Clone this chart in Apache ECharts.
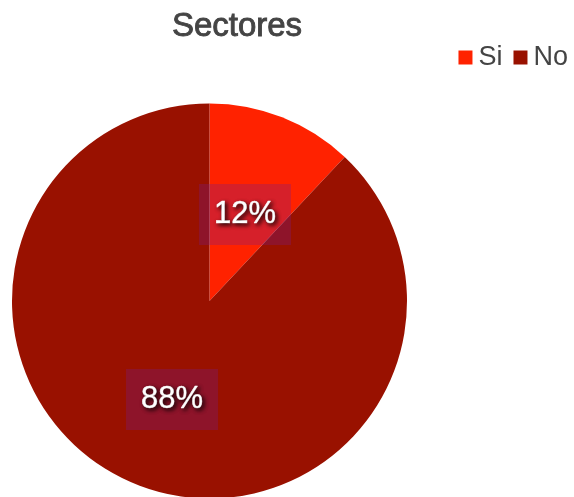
<!DOCTYPE html>
<html>
<head>
<meta charset="utf-8">
<style>
  html, body { margin: 0; padding: 0; background: #fff; }
  #chart { width: 574px; height: 497px; }
</style>
<script src="https://cdn.jsdelivr.net/npm/echarts@6/dist/echarts.min.js"></script>
</head>
<body>
<div id="chart"></div>
<script>
// chart data
const categories = ['Si', 'No'];
const values = [12, 88];
const colors = ['#ff2200', '#991100'];
// small nudges so the labels sit where the reference puts them
const labelOffsets = [[-2, 8], [0, 4]];

const chart = echarts.init(document.getElementById('chart'), null, { renderer: 'canvas' });

const font = '"Liberation Sans", Helvetica, Arial, sans-serif';

chart.setOption({
  animation: false,
  title: {
    text: 'Sectores',
    left: 232,
    top: 5,
    textAlign: 'center',
    // medium weight: regular face thickened with a thin outline
    textStyle: {
      fontFamily: font, fontSize: 33, fontWeight: 'normal', color: '#444',
      textBorderColor: '#444', textBorderWidth: 0.9
    }
  },
  legend: {
    data: categories,
    right: 1,
    top: 39,
    icon: 'rect',
    itemWidth: 14,
    itemHeight: 14,
    itemGap: 11,
    textStyle: { fontFamily: font, fontSize: 27, color: '#444', padding: [0, 0, 0, 1] }
  },
  series: [{
    type: 'pie',
    center: [209.5, 301],
    radius: 197.5,
    startAngle: 90,
    clockwise: true,
    silent: true,
    label: {
      show: true,
      position: 'inside',
      formatter: '{d}%',
      fontFamily: font,
      fontSize: 31,
      color: '#fff',
      textBorderColor: '#fff',
      textBorderWidth: 0.6,
      textShadowColor: 'rgba(0,0,0,0.9)',
      textShadowBlur: 4,
      textShadowOffsetX: 2,
      textShadowOffsetY: 2,
      backgroundColor: 'rgba(120,30,140,0.3)',
      padding: [15, 15]
    },
    labelLine: { show: false },
    itemStyle: { borderWidth: 0 },
    data: categories.map((name, i) => ({
      name: name,
      value: values[i],
      itemStyle: { color: colors[i] },
      label: { offset: labelOffsets[i] }
    }))
  }]
});
</script>
</body>
</html>
